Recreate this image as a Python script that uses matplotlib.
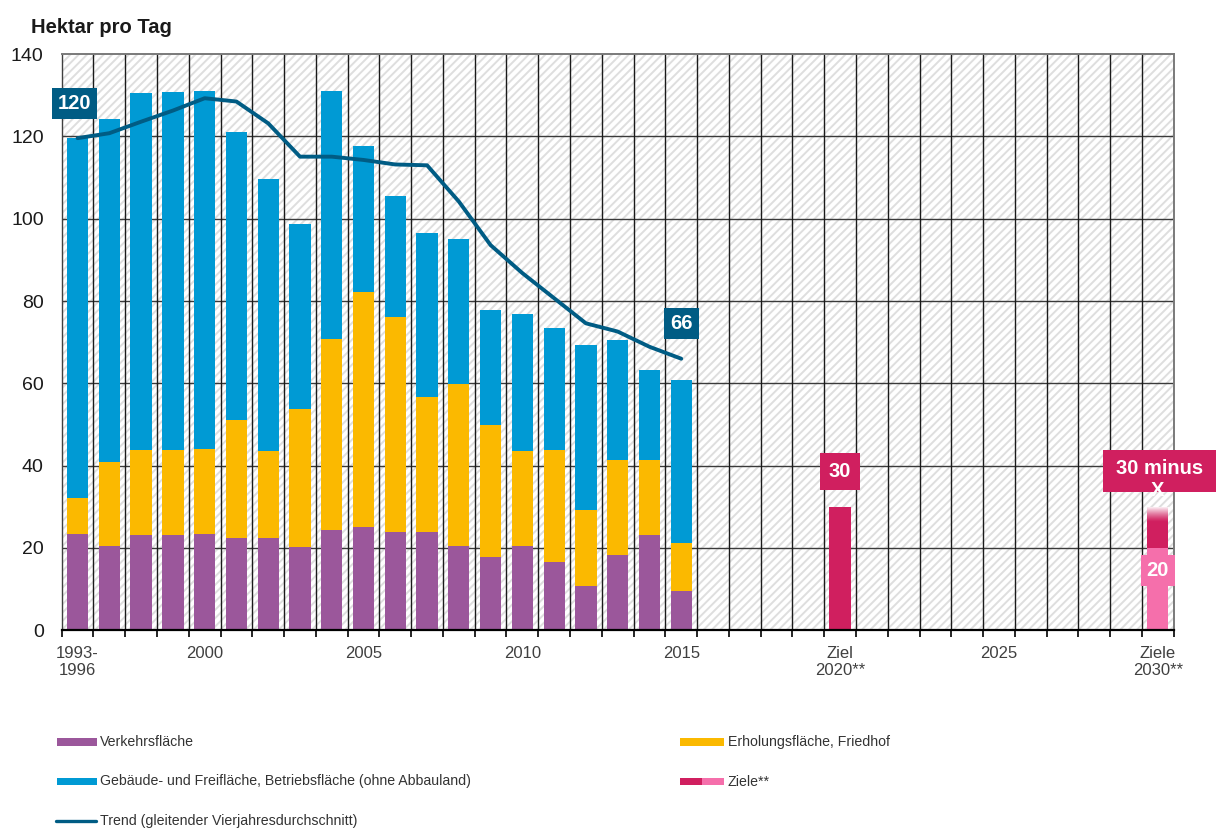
import numpy as np
import matplotlib
matplotlib.use("Agg")
import matplotlib.pyplot as plt
from matplotlib.patches import Rectangle
from matplotlib.lines import Line2D

# --- data -------------------------------------------------------------------
years_hist = ["1993-1996"] + [str(y) for y in range(1997, 2016)]
years_future = [str(y) for y in range(2016, 2031)]
categories = years_hist + years_future

verkehr = [23.4, 20.4, 23.2, 23.2, 23.4, 22.4, 22.4, 20.2, 24.3, 25.1,
           24.0, 24.0, 20.5, 17.7, 20.5, 16.7, 10.8, 18.3, 23.2, 9.6]
erholung = [8.7, 20.4, 20.5, 20.5, 20.7, 28.6, 21.1, 33.6, 46.6, 57.2,
            52.1, 32.8, 39.3, 32.3, 23.0, 27.0, 18.4, 23.0, 18.1, 11.7]
gebaeude = [87.6, 83.4, 86.8, 87.1, 87.0, 70.0, 66.2, 44.9, 60.2, 35.5,
            29.4, 39.8, 35.2, 27.8, 33.4, 29.8, 40.1, 29.2, 22.0, 39.5]
trend = [119.6, 120.8, 123.6, 126.3, 129.3, 128.5, 123.2, 115.1, 115.1, 114.3,
         113.2, 113.0, 104.2, 93.6, 86.8, 80.7, 74.6, 72.6, 68.9, 66.0]

ziel_2020 = 30
ziel_2030_oben = 30
ziel_2030_unten = 20

tick_labels = {0: "1993-\n1996", 4: "2000", 9: "2005", 14: "2010", 19: "2015",
               24: "Ziel\n2020**", 29: "2025", 34: "Ziele\n2030**"}

# --- style ------------------------------------------------------------------
C_PURPLE = "#9B579B"
C_ORANGE = "#FBB900"
C_BLUE = "#009AD4"
C_TREND = "#005C84"
C_CRIMSON = "#D01F5F"
C_PINK = "#F56FAB"

plt.rcParams["font.family"] = ["Liberation Sans", "DejaVu Sans"]
plt.rcParams["hatch.color"] = "#dedede"
plt.rcParams["hatch.linewidth"] = 1.4

fig = plt.figure(figsize=(12.16, 8.31), dpi=100)
ax = fig.add_axes([0.05074, 0.24152, 0.91447, 0.69326])
ax.set_xlim(-0.5, len(categories) - 0.5)
ax.set_ylim(0, 140)

# hatched background
ax.add_patch(Rectangle((0, 0), 1, 1, transform=ax.transAxes, facecolor="white",
                       edgecolor="#dedede", hatch="////", lw=0, zorder=0))

# grid
for v in range(20, 140, 20):
    ax.axhline(v, color="#3a3a3a", lw=1.0, zorder=1)
for k in range(1, len(categories)):
    ax.axvline(k - 0.5, color="#1a1a1a", lw=1.0, zorder=1)

# stacked bars
x = np.arange(len(years_hist))
w = 0.67
v_arr = np.array(verkehr)
e_arr = np.array(erholung)
g_arr = np.array(gebaeude)
ax.bar(x, v_arr, w, color=C_PURPLE, zorder=3)
ax.bar(x, e_arr, w, bottom=v_arr, color=C_ORANGE, zorder=3)
ax.bar(x, g_arr, w, bottom=v_arr + e_arr, color=C_BLUE, zorder=3)

# trend line
ax.plot(x, trend, color=C_TREND, lw=2.8, zorder=4, solid_capstyle="round")

# targets
i2020 = categories.index("2020")
i2030 = categories.index("2030")
ax.bar(i2020, ziel_2020, w, color=C_CRIMSON, zorder=3)
ax.bar(i2030, ziel_2030_unten, w, color=C_PINK, zorder=3)
ax.bar(i2030, ziel_2030_oben - ziel_2030_unten, w, bottom=ziel_2030_unten,
       color=C_CRIMSON, zorder=3)
# fade at the top of the 2030 range
grad = np.zeros((64, 2, 4))
grad[..., :3] = 1.0
grad[..., 3] = np.linspace(0, 0.95, 64)[:, None] ** 1.3
ax.imshow(grad, extent=[i2030 - w / 2, i2030 + w / 2, ziel_2030_oben - 3.6, ziel_2030_oben],
          origin="lower", aspect="auto", zorder=3.5, interpolation="bilinear")
ax.set_xlim(-0.5, len(categories) - 0.5)
ax.set_ylim(0, 140)


def value_box(xp, yp, txt, color, pad=0.3):
    ax.text(xp, yp, txt, ha="center", va="center", fontsize=14.5, fontweight="bold",
            color="white", zorder=6, clip_on=False,
            bbox=dict(boxstyle=f"square,pad={pad}", fc=color, ec="none"))


value_box(-0.1, trend[0] + 8.5, f"{round(trend[0])}", C_TREND)
value_box(19.0, trend[-1] + 8.6, f"{round(trend[-1])}", C_TREND)
value_box(i2020, ziel_2020 + 8.6, f"{ziel_2020}", C_CRIMSON, pad=0.45)
value_box(i2030, ziel_2030_unten - 5.4, f"{ziel_2030_unten}", C_PINK)

# "30 minus X" label: box runs off the right edge
ax.add_patch(Rectangle((i2030 - 1.73, ziel_2030_oben + 3.6), 4.5, 10.2, facecolor=C_CRIMSON,
                       edgecolor="none", zorder=5.5, clip_on=False))
ax.text(i2030 + 0.05, ziel_2030_oben + 9.2, f"{ziel_2030_oben} minus", ha="center", va="center",
        fontsize=14.5, fontweight="bold", color="white", zorder=6, clip_on=False)
ax.text(i2030, ziel_2030_oben + 3.9, "X", ha="center", va="center", fontsize=14.5,
        fontweight="bold", color="white", zorder=6)

# axes cosmetics
ax.set_yticks(range(0, 141, 20))
ax.tick_params(axis="y", length=0, pad=13, labelsize=14, labelcolor="#1a1a1a")
ax.set_xticks(list(tick_labels.keys()))
ax.set_xticklabels(list(tick_labels.values()))
ax.tick_params(axis="x", which="major", length=0, pad=11, labelsize=12, labelcolor="#404040")
ax.set_xticks(np.arange(-0.5, len(categories)), minor=True)
ax.tick_params(axis="x", which="minor", length=5, width=1.2, color="black", direction="out")

ax.spines["bottom"].set_color("black")
ax.spines["bottom"].set_linewidth(1.6)
ax.spines["left"].set_color("#404040")
ax.spines["left"].set_linewidth(1.0)
for s in ("top", "right"):
    ax.spines[s].set_color("#7a7a7a")
    ax.spines[s].set_linewidth(1.4)
for s in ax.spines.values():
    s.set_zorder(5)

fig.text(31 / 1216, 1 - 33 / 831, "Hektar pro Tag", fontsize=14.5, fontweight="bold",
         color="#1a1a1a", va="baseline", ha="left")

# legend
W, H = 1216, 831


def fx(px):
    return px / W


def fy(py):
    return 1 - py / H


def legend_patch(x0, x1, yc, color):
    fig.patches.append(Rectangle((fx(x0), fy(yc + 3.7)), fx(x1) - fx(x0), fy(yc - 3.7) - fy(yc + 3.7),
                                 transform=fig.transFigure, facecolor=color, edgecolor="none"))


def legend_text(x0, yc, txt):
    fig.text(fx(x0), fy(yc), txt, fontsize=10.2, color="#333333", va="center", ha="left")


legend_patch(57, 97, 742, C_PURPLE)
legend_text(100, 742, "Verkehrsfläche")
legend_patch(57, 97, 781.5, C_BLUE)
legend_text(100, 781.5, "Gebäude- und Freifläche, Betriebsfläche (ohne Abbauland)")
fig.lines.append(Line2D([fx(56), fx(96)], [fy(820.5), fy(820.5)], transform=fig.transFigure,
                        color=C_TREND, lw=2.4, solid_capstyle="round"))
legend_text(100, 820.5, "Trend (gleitender Vierjahresdurchschnitt)")

legend_patch(680, 724, 742, C_ORANGE)
legend_text(728, 742, "Erholungsfläche, Friedhof")
legend_patch(680, 702, 781.5, C_CRIMSON)
legend_patch(702, 724, 781.5, C_PINK)
legend_text(728, 781.5, "Ziele**")

fig.savefig("out.png", dpi=100)
